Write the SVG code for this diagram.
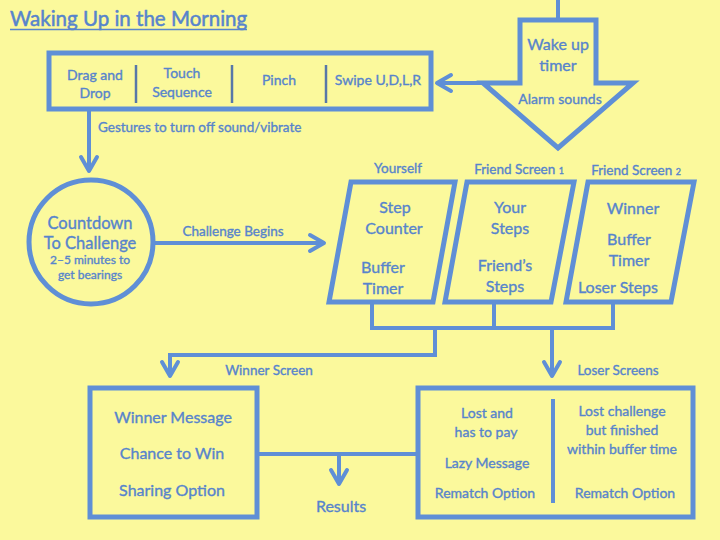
<svg xmlns="http://www.w3.org/2000/svg" width="720" height="540" viewBox="0 0 720 540">
<defs>
<style>
.bg{fill:#FBF99C}
.sh{fill:none;stroke:#5F8FD6;stroke-width:5;stroke-linejoin:miter}
.ln{fill:none;stroke:#5F8FD6;stroke-width:4}
.dv{stroke:#5878A8;stroke-width:2.5}
.dv2{stroke:#5F8FD6;stroke-width:4}
text{font-family:Lato,"Open Sans","Liberation Sans",sans-serif;fill:#5784CC;stroke:#5784CC;stroke-width:0.35;text-anchor:middle}
.t16{font-size:16px}
.t14{font-size:14px}
.t13{font-size:13.5px}
.t12{font-size:12px}
</style>
<marker id="ah" viewBox="-3 -3 20 22" markerWidth="20" markerHeight="22" refX="14" refY="8" orient="auto" markerUnits="userSpaceOnUse">
<path d="M0,0 L14,8 L0,16" fill="none" stroke="#5F8FD6" stroke-width="4" stroke-linecap="round" stroke-linejoin="round"/>
</marker>
</defs>
<rect class="bg" x="0" y="0" width="720" height="540"/>

<g id="title">
<text x="10" y="26" style="font-size:20.5px;text-anchor:start;stroke-width:0.5">Waking Up in the Morning</text>
<line x1="10" y1="29.5" x2="247" y2="29.5" stroke="#5784CC" stroke-width="1.5"/>
</g>

<g id="connectors">
<line class="ln" x1="558" y1="0" x2="558" y2="20"/>
<line class="ln" x1="484" y1="83" x2="437" y2="83" marker-end="url(#ah)"/>
<line class="ln" x1="89" y1="111" x2="89" y2="171" marker-end="url(#ah)"/>
<line class="ln" x1="155" y1="243" x2="324" y2="243" marker-end="url(#ah)"/>
<polyline class="ln" points="372,302 372,328 613,328 613,302"/>
<line class="ln" x1="494" y1="302" x2="494" y2="328"/>
<polyline class="ln" points="435,328 435,355 170,355 170,376" marker-end="url(#ah)"/>
<line class="ln" x1="552" y1="328" x2="552" y2="376" marker-end="url(#ah)"/>
<line class="ln" x1="257" y1="454" x2="418" y2="454"/>
<line class="ln" x1="339" y1="454" x2="339" y2="484" marker-end="url(#ah)"/>
<text class="t13" x="98" y="132" style="text-anchor:start">Gestures to turn off sound/vibrate</text>
<text class="t13" x="233" y="236">Challenge Begins</text>
<text class="t13" x="269" y="375">Winner Screen</text>
<text class="t13" x="618" y="375">Loser Screens</text>
</g>

<g id="wake-up-timer">
<polygon class="sh" points="520,20 596,20 596,83 633,83 558,148 483,83 520,83"/>
<text class="t16" x="558" y="50">Wake up</text>
<text class="t16" x="558" y="71">timer</text>
<text class="t14" x="560" y="104">Alarm sounds</text>
</g>

<g id="gestures">
<rect class="sh" x="49" y="53" width="382" height="56"/>
<line class="dv" x1="136" y1="65" x2="136" y2="103"/>
<line class="dv" x1="232" y1="65" x2="232" y2="103"/>
<line class="dv" x1="326" y1="65" x2="326" y2="103"/>
<text class="t14" x="95" y="80">Drag and</text>
<text class="t14" x="95" y="98">Drop</text>
<text class="t14" x="182" y="78">Touch</text>
<text class="t14" x="182" y="97">Sequence</text>
<text class="t14" x="279" y="85">Pinch</text>
<text class="t14" x="378" y="85">Swipe U,D,L,R</text>
</g>

<g id="countdown">
<circle class="sh" cx="91" cy="242" r="62"/>
<text x="90" y="229" style="font-size:16.5px">Countdown</text>
<text x="90" y="249" style="font-size:16.5px">To Challenge</text>
<text class="t12" x="90" y="264">2–5 minutes to</text>
<text class="t12" x="90" y="279">get bearings</text>
</g>

<g id="yourself">
<text class="t13" x="398" y="173">Yourself</text>
<polygon class="sh" points="351,182 455,182 433,302 329,302"/>
<text class="t16" x="395" y="213">Step</text>
<text class="t16" x="394" y="234">Counter</text>
<text class="t16" x="383" y="273">Buffer</text>
<text class="t16" x="383" y="294">Timer</text>
</g>

<g id="friend-screen-1">
<text class="t13" x="519" y="174">Friend Screen <tspan style="font-size:9px">1</tspan></text>
<polygon class="sh" points="467,182 574,182 551,302 445,302"/>
<text class="t16" x="510" y="213">Your</text>
<text class="t16" x="510" y="234">Steps</text>
<text class="t16" x="505" y="271">Friend’s</text>
<text class="t16" x="505" y="292">Steps</text>
</g>

<g id="friend-screen-2">
<text class="t13" x="636" y="175">Friend Screen <tspan style="font-size:9px">2</tspan></text>
<polygon class="sh" points="588,182 694,182 671,302 566,302"/>
<text class="t16" x="633" y="214">Winner</text>
<text class="t16" x="629" y="245">Buffer</text>
<text class="t16" x="629" y="266">Timer</text>
<text class="t16" x="618" y="293">Loser Steps</text>
</g>

<g id="winner-screen">
<rect class="sh" x="90" y="388" width="167" height="129"/>
<text class="t16" x="173" y="423">Winner Message</text>
<text class="t16" x="172" y="459">Chance to Win</text>
<text class="t16" x="172" y="496">Sharing Option</text>
</g>

<g id="results">
<text class="t16" x="341" y="512">Results</text>
</g>

<g id="loser-screens">
<rect class="sh" x="418" y="388" width="275" height="129"/>
<line class="dv2" x1="553" y1="399" x2="553" y2="503"/>
<text class="t14" x="487" y="418">Lost and</text>
<text class="t14" x="486" y="437">has to pay</text>
<text class="t14" x="487" y="468">Lazy Message</text>
<text class="t14" x="485" y="498">Rematch Option</text>
<text class="t14" x="622" y="416">Lost challenge</text>
<text class="t14" x="622" y="435">but finished</text>
<text class="t14" x="622" y="454">within buffer time</text>
<text class="t14" x="625" y="498">Rematch Option</text>
</g>
</svg>
